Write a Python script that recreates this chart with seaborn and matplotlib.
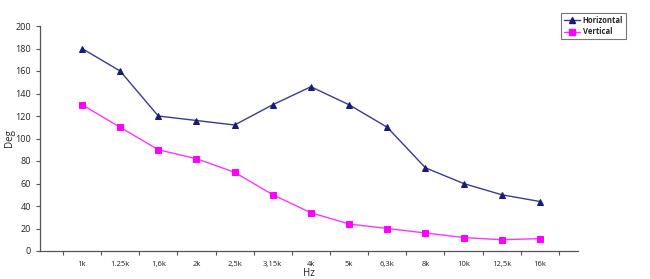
import matplotlib
matplotlib.use("Agg")
import matplotlib.pyplot as plt
import seaborn as sns
import pandas as pd
import numpy as np
from matplotlib.lines import Line2D

categories = ["1k", "1.25k", "1,6k", "2k", "2,5k", "3,15k", "4k", "5k", "6,3k", "8k", "10k", "12,5k", "16k"]
horizontal = [180, 160, 120, 116, 112, 130, 146, 130, 110, 74, 60, 50, 44]
vertical = [130, 110, 90, 82, 70, 50, 34, 24, 20, 16, 12, 10, 11]
series_names = ["Horizontal", "Vertical"]

sns.set_theme(style="white")
plt.rcParams['font.family'] = ['Open Sans', 'DejaVu Sans']

df = pd.DataFrame({
    "x": list(range(len(categories))) * 2,
    "value": horizontal + vertical,
    "series": [series_names[0]] * len(categories) + [series_names[1]] * len(categories),
})

fig = plt.figure(figsize=(6.5, 2.79), dpi=100)
ax = fig.add_axes([40/650, 1 - 251/279, (578-40)/650, (251-26)/279])

palette = {"Horizontal": "#3a3a95", "Vertical": "#ff33ff"}
markers = {"Horizontal": "^", "Vertical": "s"}
sns.lineplot(data=df, x="x", y="value", hue="series", style="series",
             palette=palette, markers=markers, dashes=False, ax=ax,
             linewidth=1.0, markersize=5, legend=False)
for line, mc in zip(ax.get_lines(), ["#1a1a7a", "#ff00ff"]):
    line.set_markerfacecolor(mc)
    line.set_markeredgecolor(mc)

ax.set_xlim(-1.1, 13.0)
ax.set_ylim(0, 200)
ax.set_yticks(np.arange(0, 201, 20))
ax.set_xticks(range(len(categories)))
ax.set_xticklabels(categories)
ax.set_xticks(np.arange(-0.5, 13.0, 1.0), minor=True)
ax.tick_params(axis="x", which="major", length=0, labelsize=5.5, pad=7, colors="#222222")
ax.tick_params(axis="x", which="minor", length=3, direction="out", color="#555555", width=0.8, bottom=True)
ax.tick_params(axis="y", which="major", length=3, direction="out", labelsize=6.5, color="#555555", width=0.8, left=True, labelcolor="#222222")

for s in ["top", "right"]:
    ax.spines[s].set_visible(False)
for s in ["left", "bottom"]:
    ax.spines[s].set_color("#555555")
    ax.spines[s].set_linewidth(0.9)

ax.set_xlabel("Hz", fontsize=7, color="#222222")
ax.set_ylabel("Deg", fontsize=7, color="#222222")
ax.xaxis.set_label_coords(0.5, (251-273)/225)
ax.yaxis.set_label_coords((10-40)/538, 0.5)
ax.xaxis.label.set_verticalalignment("center")
ax.yaxis.label.set_verticalalignment("center")

handles = [
    Line2D([], [], color="#3a3a95", marker="^", markerfacecolor="#1a1a7a", markeredgecolor="#1a1a7a", markersize=4, linewidth=1),
    Line2D([], [], color="#ff33ff", marker="s", markerfacecolor="#ff00ff", markeredgecolor="#ff00ff", markersize=4, linewidth=1),
]
leg = fig.legend(handles, series_names, loc="upper left", bbox_to_anchor=(561/650, 1 - 13/279),
                 fontsize=5.5, frameon=True, fancybox=False, shadow=False,
                 handlelength=2.2, handletextpad=0.3, borderpad=0.35, labelspacing=0.35,
                 borderaxespad=0)
leg.get_frame().set_edgecolor("#555555")
leg.get_frame().set_linewidth(0.8)
for t in leg.get_texts():
    t.set_fontweight("bold")

fig.savefig("out.png", dpi=100)
